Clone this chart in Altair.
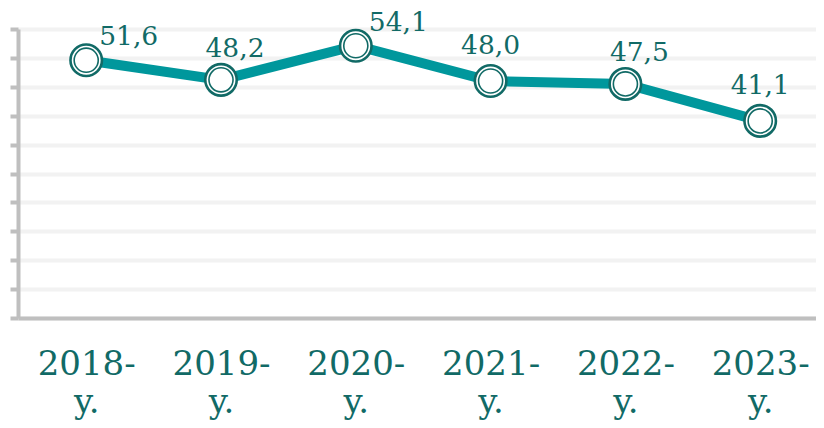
import altair as alt
import pandas as pd

years = ["2018", "2019", "2020", "2021", "2022", "2023"]
values = [51.6, 48.2, 54.1, 48.0, 47.5, 41.1]

df = pd.DataFrame({"year": years, "value": values})

LINE = "#00979c"
DARK = "#116a66"
GRAY = "#bfbfbf"
FONT = "DejaVu Serif"

x_enc = alt.X(
    "year:N",
    sort=years,
    scale=alt.Scale(type="point", padding=0.46, align=0.55),
    axis=alt.Axis(
        title=None,
        domain=True,
        domainColor=GRAY,
        domainWidth=4,
        ticks=False,
        grid=False,
        labelAngle=0,
        labelFont=FONT,
        labelFontSize=34,
        labelColor=DARK,
        labelLineHeight=38,
        labelPadding=29,
        labelExpr="[datum.label + '-', 'y.']",
    ),
)
y_enc = alt.Y(
    "value:Q",
    scale=alt.Scale(domain=[7, 57], nice=False, zero=False),
    axis=alt.Axis(
        title=None,
        labels=False,
        values=list(range(7, 58, 5)),
        domain=True,
        domainColor=GRAY,
        domainWidth=4,
        ticks=True,
        tickSize=8,
        tickColor=GRAY,
        tickWidth=4,
        grid=True,
        gridColor="#f2f2f2",
        gridWidth=4,
    ),
)

base = alt.Chart(df).encode(x=x_enc, y=y_enc)

line = base.mark_line(color=LINE, strokeWidth=10)
outer = base.mark_point(shape="circle", size=990, filled=False, fill="white",
                        fillOpacity=1, stroke=DARK, strokeWidth=2.6, opacity=1)
inner = base.mark_point(shape="circle", size=580, filled=False,
                        stroke=DARK, strokeWidth=1.6, opacity=1)

lab = base.transform_calculate(
    lbl="replace(format(datum.value, '.1f'), '.', ',')"
)
text_a = lab.transform_filter(
    alt.FieldOneOfPredicate(field="year", oneOf=["2018", "2020"])
).mark_text(align="left", baseline="alphabetic", dx=13, dy=-15,
            font=FONT, fontSize=26.5, color=DARK).encode(text="lbl:N")
text_b = lab.transform_filter(
    alt.FieldOneOfPredicate(field="year", oneOf=["2019", "2022"])
).mark_text(align="center", baseline="alphabetic", dx=14, dy=-23,
            font=FONT, fontSize=26.5, color=DARK).encode(text="lbl:N")
text_c = lab.transform_filter(
    alt.FieldOneOfPredicate(field="year", oneOf=["2021", "2023"])
).mark_text(align="center", baseline="alphabetic", dx=0, dy=-27,
            font=FONT, fontSize=26.5, color=DARK).encode(text="lbl:N")

chart = alt.layer(line, outer, inner, text_a, text_b, text_c).properties(
    width=798,
    height=289,
    autosize=alt.AutoSizeParams(type="none"),
    padding={"left": 10, "top": 21, "right": 0, "bottom": 102},
).configure_view(stroke=None).configure(background="white")

chart.save("out.html", embed_options={"renderer": "svg", "actions": False})
